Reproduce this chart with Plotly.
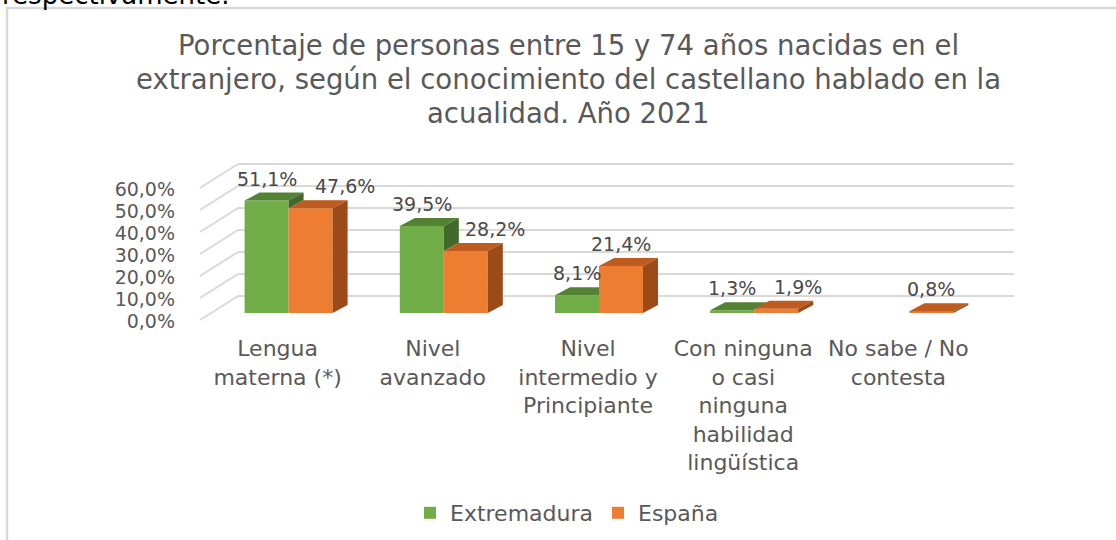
import plotly.graph_objects as go

# ---------------- data ----------------
categories = [
    "Lengua<br>materna (*)",
    "Nivel<br>avanzado",
    "Nivel<br>intermedio y<br>Principiante",
    "Con ninguna<br>o casi<br>ninguna<br>habilidad<br>lingüística",
    "No sabe / No<br>contesta",
]
series_names = ["Extremadura", "España"]
extremadura = [51.1, 39.5, 8.1, 1.3, None]
espana = [47.6, 28.2, 21.4, 1.9, 0.8]
y_ticks = [0, 10, 20, 30, 40, 50, 60]
y_tick_labels = ["0,0%", "10,0%", "20,0%", "30,0%", "40,0%", "50,0%", "60,0%"]
title_lines = ["Porcentaje de personas entre 15 y 74 años nacidas en el",
               "extranjero, según el conocimiento del castellano hablado en la",
               "acualidad. Año 2021"]
page_text = "respectivamente."

# ---------------- style / geometry ----------------
W, H = 1116, 540
FONT = "DejaVu Sans"
GREY = "#595959"
LABEL = "#4a4a4a"
GRID = "#d9d9d9"
GREEN = dict(front="#70AD47", top="#548235", side="#43682B")
ORANGE = dict(front="#ED7D31", top="#BE5B1E", side="#9C4A18")

PLANE_L, PLANE_R = 211, 987      # bar plane, pixels
BASE_Y, PX_PCT = 313, 2.2        # bar plane baseline and px per %
BACK_DX, BACK_DY = 27, -17       # back wall offset
FRONT_DX, FRONT_DY = -11, 7      # front (label) plane offset
N = len(categories)
PX_CAT = (PLANE_R - PLANE_L) / N
BW = 44 / PX_CAT                 # bar width in category units
DXU = 15 / PX_CAT                # bar depth (x), category units
DYU = 8 / PX_PCT                 # bar depth (y), % units
label_xshift_esp = [34, 29, 0, 22, 0]
label_xshift_ext = [0, 0, 0, 0, 0]
TITLE_X, TITLE_Y0, TITLE_DY = 568, 45, 34


def px_x(p):
    return p / W


def px_y(p):
    return 1 - p / H


YMAX = y_ticks[-1]
x_pos = list(range(N))

fig = go.Figure()

# front faces (bars)
fig.add_trace(go.Bar(x=x_pos, y=extremadura, name=series_names[0], width=BW, offset=-BW,
                     marker=dict(color=GREEN["front"], line=dict(width=0)),
                     xaxis="x2", yaxis="y2", hoverinfo="skip"))
fig.add_trace(go.Bar(x=x_pos, y=espana, name=series_names[1], width=BW, offset=0,
                     marker=dict(color=ORANGE["front"], line=dict(width=0)),
                     xaxis="x2", yaxis="y2", hoverinfo="skip"))


def poly_trace(xs, ys, color):
    return go.Scatter(x=xs, y=ys, mode="lines", fill="toself", fillcolor=color,
                      line=dict(width=0, color=color), xaxis="x2", yaxis="y2",
                      showlegend=False, hoverinfo="skip", cliponaxis=False)


gt_x, gt_y, gs_x, gs_y, ot_x, ot_y, os_x, os_y = ([] for _ in range(8))
for i in range(N):
    g, o = extremadura[i], espana[i]
    xl, xr = i - BW, i
    if g is not None:
        # green top face, hidden where the orange front face covers it
        if o is not None and o > g:
            t = min((o - g) / DYU, 1.0)
            pts = [(xl, g), (xr, g), (xr, min(o, g + DYU)),
                   (xr + DXU * t, g + DYU * t), (xr + DXU, g + DYU), (xl + DXU, g + DYU)]
        else:
            pts = [(xl, g), (xr, g), (xr + DXU, g + DYU), (xl + DXU, g + DYU)]
        gt_x += [p[0] for p in pts] + [None]
        gt_y += [p[1] for p in pts] + [None]
        # green side face: only the part above the orange bar
        low = o if o is not None else 0
        if g > low:
            pts = [(xr, low), (xr + DXU, low + DYU), (xr + DXU, g + DYU), (xr, g)]
            gs_x += [p[0] for p in pts] + [None]
            gs_y += [p[1] for p in pts] + [None]
    if o is not None:
        x0, x1 = i, i + BW
        pts = [(x0, o), (x1, o), (x1 + DXU, o + DYU), (x0 + DXU, o + DYU)]
        ot_x += [p[0] for p in pts] + [None]
        ot_y += [p[1] for p in pts] + [None]
        pts = [(x1, 0), (x1 + DXU, DYU), (x1 + DXU, o + DYU), (x1, o)]
        os_x += [p[0] for p in pts] + [None]
        os_y += [p[1] for p in pts] + [None]

fig.add_trace(poly_trace(gt_x, gt_y, GREEN["top"]))
fig.add_trace(poly_trace(gs_x, gs_y, GREEN["side"]))
fig.add_trace(poly_trace(ot_x, ot_y, ORANGE["top"]))
fig.add_trace(poly_trace(os_x, os_y, ORANGE["side"]))

# back wall gridlines carrier (invisible trace)
fig.add_trace(go.Scatter(x=[0, 1], y=[0, YMAX], mode="markers", marker=dict(opacity=0),
                         xaxis="x", yaxis="y", showlegend=False, hoverinfo="skip"))


def fmt(v):
    return f"{v:.1f}%".replace(".", ",")


annotations = []
for vals, shifts, off in ((extremadura, label_xshift_ext, -BW / 2), (espana, label_xshift_esp, BW / 2)):
    for i, v in enumerate(vals):
        if v is None:
            continue
        annotations.append(dict(x=i + off, y=v, xref="x2", yref="y2", text=fmt(v),
                                showarrow=False, yanchor="middle", yshift=22, xshift=shifts[i],
                                font=dict(family=FONT, size=19, color=LABEL)))

for k, line in enumerate(title_lines):
    annotations.append(dict(x=px_x(TITLE_X), y=px_y(TITLE_Y0 + k * TITLE_DY), xref="paper", yref="paper",
                            text=line, showarrow=False, xanchor="center", yanchor="middle",
                            font=dict(family=FONT, size=27.5, color=GREY)))
annotations.append(dict(x=0, y=px_y(12), xref="paper", yref="paper", text=page_text,
                        showarrow=False, xanchor="left", yanchor="bottom",
                        font=dict(family=FONT, size=26, color="#000000")))

shapes = [dict(type="rect", xref="paper", yref="paper", x0=px_x(7), x1=px_x(1140),
               y0=px_y(570), y1=px_y(8), line=dict(color=GRID, width=2.5), layer="below")]
# side wall gridlines (front-left edge to back-left edge)
for v in y_ticks:
    fy = BASE_Y + FRONT_DY - v * PX_PCT
    by = BASE_Y + BACK_DY - v * PX_PCT
    shapes.append(dict(type="line", xref="paper", yref="paper",
                       x0=px_x(PLANE_L + FRONT_DX), y0=px_y(fy),
                       x1=px_x(PLANE_L + BACK_DX), y1=px_y(by),
                       line=dict(color=GRID, width=2), layer="below"))

back_base = BASE_Y + BACK_DY
fig.update_layout(
    width=W, height=H, margin=dict(l=0, r=0, t=0, b=0, autoexpand=False),
    paper_bgcolor="white", plot_bgcolor="rgba(0,0,0,0)",
    barmode="overlay",
    showlegend=True,
    legend=dict(orientation="h", x=px_x(567), xanchor="center", y=px_y(513), yanchor="middle",
                font=dict(family=FONT, size=22, color=GREY), itemwidth=30, tracegroupgap=0),
    xaxis=dict(domain=[px_x(PLANE_L + BACK_DX), px_x(PLANE_R + BACK_DX)], range=[0, 1],
               showgrid=False, zeroline=False, showticklabels=False, showline=False,
               anchor="y", fixedrange=True, automargin=False),
    yaxis=dict(domain=[px_y(back_base + 0.5 * PX_PCT), px_y(back_base - (YMAX + 0.5) * PX_PCT)],
               range=[-0.5, YMAX + 0.5], tickvals=y_ticks, showgrid=True, gridcolor=GRID,
               gridwidth=2, zeroline=False, showticklabels=False, showline=False,
               anchor="x", fixedrange=True, automargin=False),
    xaxis2=dict(domain=[px_x(PLANE_L), px_x(PLANE_R)], range=[-0.5, N - 0.5],
                tickvals=x_pos, ticktext=categories, showgrid=False, zeroline=False,
                showline=False, ticks="", anchor="y2", automargin=False,
                ticklabelshift=FRONT_DX, ticklabelstandoff=20,
                tickfont=dict(family=FONT, size=22, color=GREY), fixedrange=True),
    yaxis2=dict(domain=[px_y(BASE_Y), px_y(BASE_Y - YMAX * PX_PCT)], range=[0, YMAX],
                tickvals=y_ticks, ticktext=y_tick_labels, showgrid=False,
                zeroline=False, showline=False, ticks="", anchor="x2", automargin=False,
                ticklabelshift=FRONT_DY + 1, ticklabelstandoff=35,
                tickfont=dict(family=FONT, size=19, color=GREY), fixedrange=True),
    annotations=annotations, shapes=shapes,
)

fig.write_html("out.html", config=dict(displayModeBar=False),
               post_script="document.body.style.margin='0px';")
